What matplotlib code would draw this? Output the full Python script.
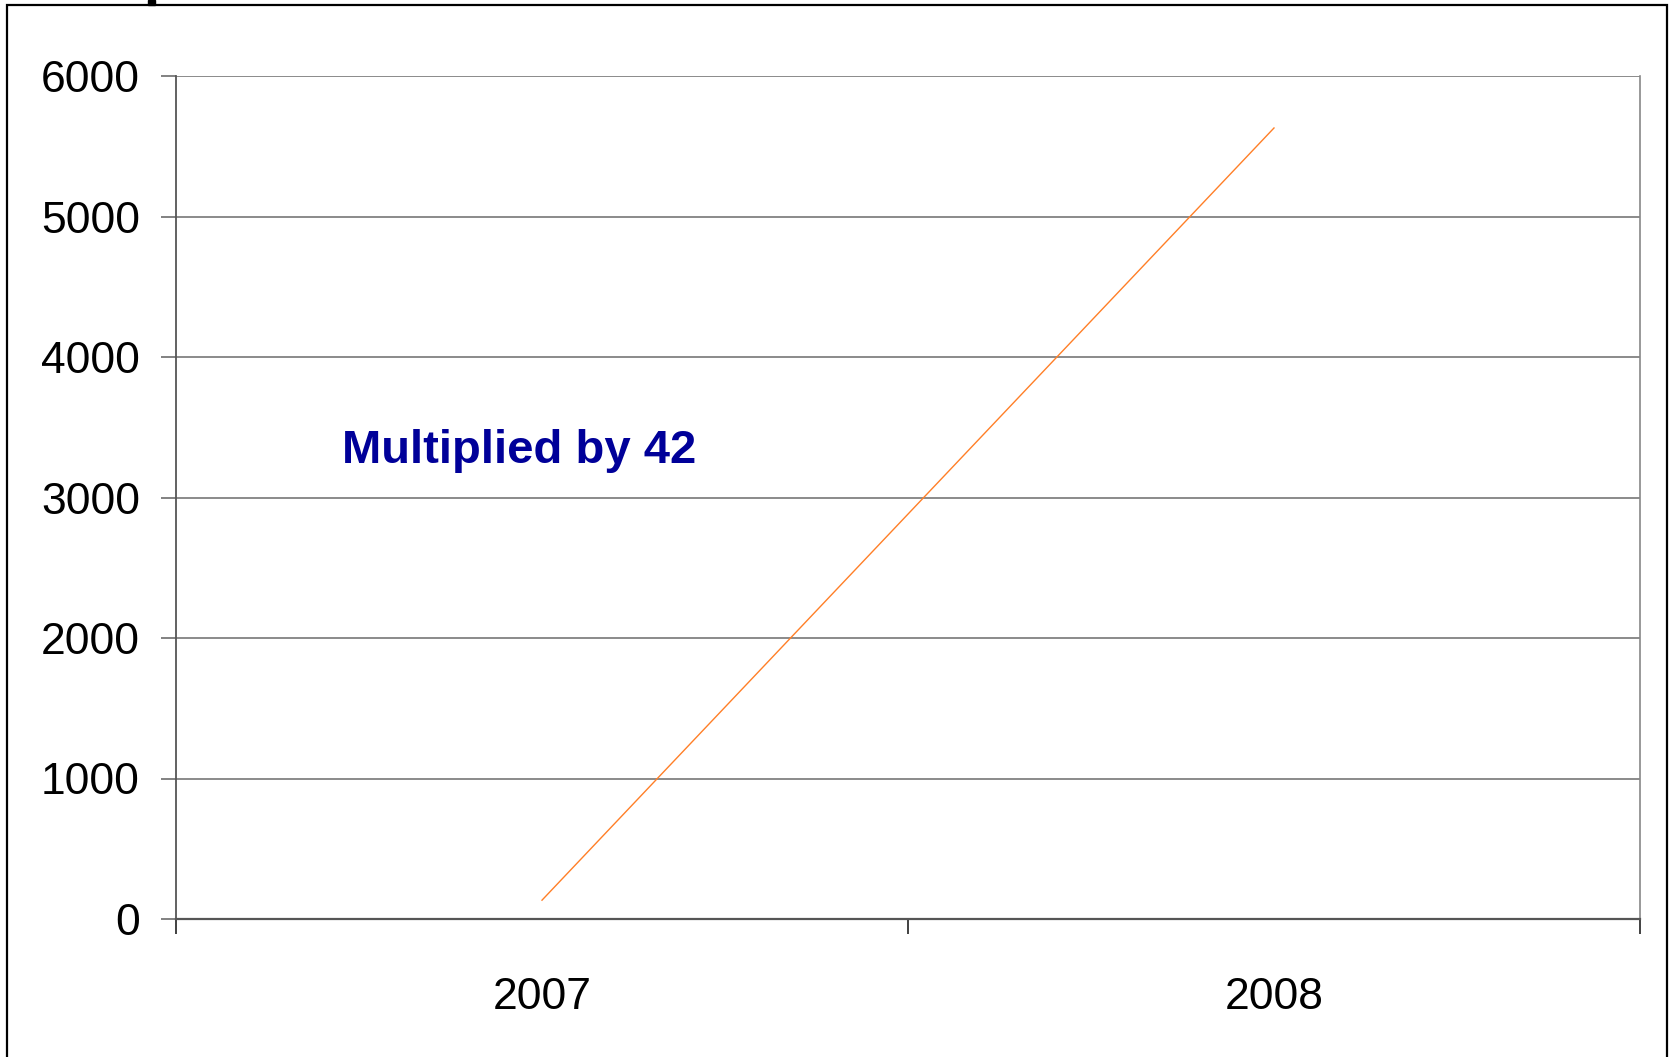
import matplotlib
matplotlib.use("Agg")
from matplotlib import pyplot as plt
from matplotlib.patches import Rectangle

plt.rcParams['font.family'] = ['Liberation Sans', 'DejaVu Sans']

# data
years = ['2007', '2008']
values = [134, 5630]

W, H = 1672, 1057
fig = plt.figure(figsize=(W / 100, H / 100), dpi=100)

# outer frame of the slide
fig.patches.append(Rectangle((7 / W, -0.05), (1667 - 7) / W, (H - 5) / H + 0.05,
                             transform=fig.transFigure, fill=False,
                             edgecolor='black', linewidth=1.6, zorder=0))
# bit of the cut-off title at the top edge
fig.patches.append(Rectangle((148 / W, 1 - 5 / H), 7 / W, 5 / H,
                             transform=fig.transFigure, color='black', zorder=1))

ax = fig.add_axes([176 / W, 1 - 919 / H, (1640 - 176) / W, (919 - 76) / H])

x = list(range(len(years)))
ax.plot(x, values, color='#ff7f27', linewidth=1.0)

ax.set_xlim(-0.5, len(years) - 0.5)
ax.set_ylim(0, 6000)
ax.set_yticks(range(0, 6001, 1000))
ax.set_xticks([i - 0.5 for i in range(len(years) + 1)])
ax.set_xticklabels([])
ax.set_xticks(x, minor=True)
ax.set_xticklabels(years, minor=True)
ax.tick_params(axis='x', which='minor', length=0, pad=42, labelsize=32)
ax.tick_params(axis='x', which='major', length=11, width=1.3, color='#333333')
ax.tick_params(axis='y', length=11, width=1.3, color='#777777', labelsize=32, pad=15)

ax.grid(axis='y', color='#777777', linewidth=1.2)
ax.set_axisbelow(True)
ax.spines['top'].set_visible(False)
ax.spines['right'].set_color('#888888')
ax.spines['right'].set_linewidth(1.2)
ax.spines['left'].set_color('#555555')
ax.spines['bottom'].set_color('#555555')
ax.spines['left'].set_linewidth(1.3)
ax.spines['bottom'].set_linewidth(1.6)

ax.text(342 / W, 1 - 451 / H, 'Multiplied by 42', transform=fig.transFigure,
        color='#000099', fontsize=34, fontweight='bold', va='center', ha='left')

plt.savefig('out.png', dpi=100)
